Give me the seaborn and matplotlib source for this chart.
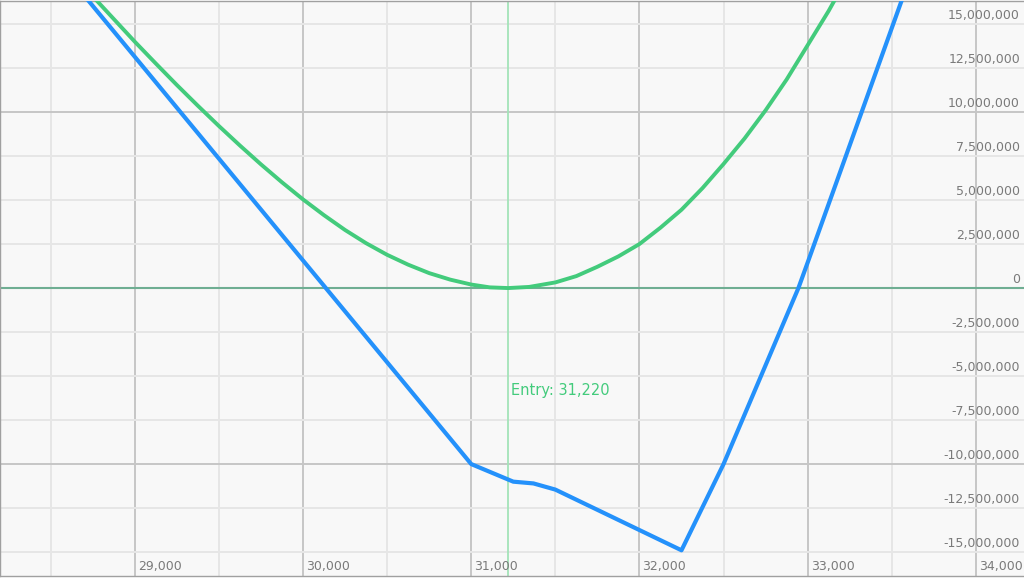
import matplotlib
matplotlib.use('Agg')
import matplotlib.pyplot as plt
import matplotlib.transforms as mtransforms
from matplotlib.ticker import MultipleLocator, NullFormatter
import pandas as pd
import seaborn as sns

# expiry P&L (blue)
expiry_price = [28200, 31000, 31250, 31370, 31500, 32250, 32500, 32945, 33000, 33700]
expiry_pnl = [22.4e6, -10.0e6, -11.0e6, -11.1e6, -11.45e6, -14.9e6, -10.0e6, 0.0, 1.45e6, 20.1e6]

# current P&L curve (green)
curve_price = [28625, 28750, 28875, 29000, 29125, 29250, 29375, 29500, 29625, 29750,
               29875, 30000, 30125, 30250, 30375, 30500, 30625, 30750, 30875, 31000,
               31110, 31220, 31345, 31500, 31625, 31750, 31875, 32000, 32125, 32250,
               32375, 32500, 32625, 32750, 32875, 33000, 33125, 33250]
curve_pnl = [17.9e6, 16.58e6, 15.29e6, 14.0e6, 12.76e6, 11.54e6, 10.36e6, 9.21e6, 8.10e6, 7.03e6,
             6.01e6, 5.04e6, 4.14e6, 3.30e6, 2.55e6, 1.89e6, 1.33e6, 0.85e6, 0.48e6, 0.20e6,
             0.04e6, 0.0, 0.065e6, 0.32e6, 0.68e6, 1.21e6, 1.80e6, 2.5e6, 3.43e6, 4.45e6,
             5.68e6, 7.05e6, 8.5e6, 10.1e6, 11.85e6, 13.8e6, 15.75e6, 17.9e6]

entry = 31220
x_labels = [29000, 30000, 31000, 32000, 33000, 34000]
y_labels = [v * 2.5e6 for v in range(-6, 7)]

expiry = pd.DataFrame({'price': expiry_price, 'pnl': expiry_pnl})
curve = pd.DataFrame({'price': curve_price, 'pnl': curve_pnl})

sns.set_theme(style='white')
plt.rcParams['font.family'] = ['DejaVu Sans']

fig = plt.figure(figsize=(10.24, 5.78), dpi=100)
ax = fig.add_axes([0, 2 / 578, 1, 575 / 578])
ax.set_facecolor('#f8f8f8')
fig.patch.set_facecolor('white')

ax.set_xlim(28199, 34286)
ax.set_ylim(-16.36e6, 16.31e6)

ax.xaxis.set_major_locator(MultipleLocator(1000))
ax.xaxis.set_minor_locator(MultipleLocator(500))
ax.yaxis.set_major_locator(MultipleLocator(10e6))
ax.yaxis.set_minor_locator(MultipleLocator(2.5e6))
ax.grid(which='major', color='#c6c6c6', lw=1.4)
ax.grid(which='minor', color='#e6e6e6', lw=1.4)
ax.set_axisbelow(True)
ax.tick_params(which='both', length=0, labelbottom=False, labelleft=False)
ax.xaxis.set_major_formatter(NullFormatter())
ax.yaxis.set_major_formatter(NullFormatter())

ax.axhline(0, color='#6fae93', lw=1.5, zorder=1.5)
ax.axvline(entry, color='#a3e4b8', lw=1.3, zorder=1.5)

sns.lineplot(data=curve, x='price', y='pnl', ax=ax, color='#43cb7c', lw=2.8, zorder=3)
sns.lineplot(data=expiry, x='price', y='pnl', ax=ax, color='#2491fb', lw=3, zorder=4)
ax.set_xlabel('')
ax.set_ylabel('')

toff = mtransforms.offset_copy(ax.transData, fig=fig, x=3, y=0, units='dots')
ax.text(entry, -5.8e6, 'Entry: 31,220', transform=toff, color='#43cb7c', fontsize=10.5,
        ha='left', va='center')

grey = '#7a7a7a'
xoff = mtransforms.offset_copy(ax.get_xaxis_transform(), fig=fig, x=3, y=3, units='dots')
for v in x_labels:
    ax.text(v, 0, f'{v:,}', transform=xoff, ha='left', va='bottom', color=grey, fontsize=9)

yoff = mtransforms.offset_copy(ax.get_yaxis_transform(), fig=fig, x=-4, y=2, units='dots')
for v in y_labels:
    ax.text(1, v, f'{int(v):,}', transform=yoff, ha='right', va='bottom', color=grey, fontsize=9)

for side in ['left', 'top', 'bottom', 'right']:
    ax.spines[side].set_color('#a0a0a0')
    ax.spines[side].set_linewidth(1)
ax.spines['right'].set_visible(False)

fig.savefig('out.png', dpi=100)
